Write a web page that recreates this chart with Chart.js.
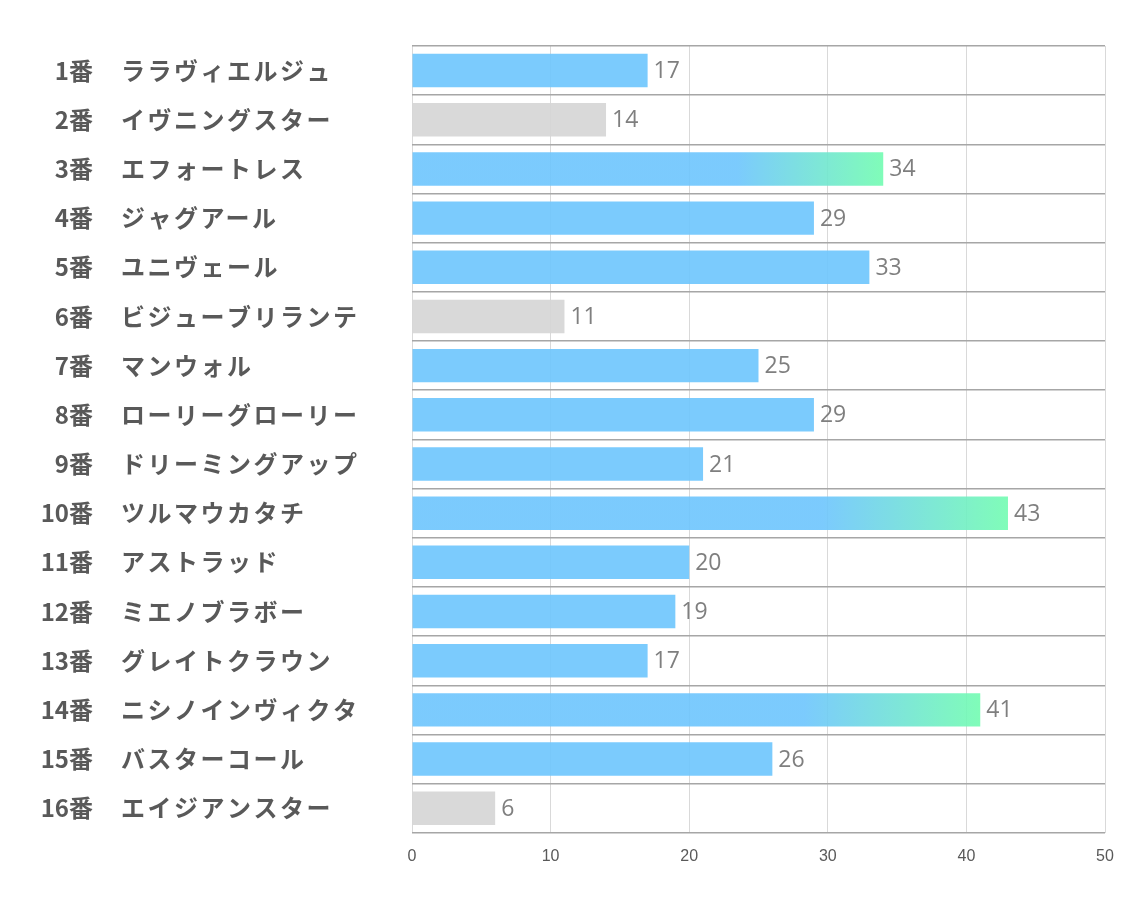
<!DOCTYPE html>
<html><head><meta charset="utf-8">
<script src="https://cdn.jsdelivr.net/npm/chart.js@4"></script>
<style>html,body{margin:0;padding:0;background:#fff}#wrap{width:1134px;height:907px}</style>
</head><body><div id="wrap"><canvas id="c" width="1134" height="907"></canvas></div>
<script>
const numbers = ['1番','2番','3番','4番','5番','6番','7番','8番','9番','10番','11番','12番','13番','14番','15番','16番'];
const names = ['ララヴィエルジュ','イヴニングスター','エフォートレス','ジャグアール','ユニヴェール','ビジューブリランテ','マンウォル','ローリーグローリー','ドリーミングアップ','ツルマウカタチ','アストラッド','ミエノブラボー','グレイトクラウン','ニシノインヴィクタ','バスターコール','エイジアンスター'];
const values = [17,14,34,29,33,11,25,29,21,43,20,19,17,41,26,6];
const kinds = ['n','g','t','n','n','g','n','n','n','t','n','n','n','t','n','g'];
const xTicks = [0,10,20,30,40,50];

const BLUE = 'rgba(109,197,253,0.9)', GRAY = 'rgba(213,213,213,0.9)', GREEN = 'rgba(114,252,177,0.9)';

function barColor(ctx){
  const k = kinds[ctx.dataIndex];
  if (k === 'g') return GRAY;
  if (k !== 't') return BLUE;
  const chart = ctx.chart, sx = chart.scales && chart.scales.x;
  if (!sx || !chart.chartArea) return BLUE;
  const x0 = sx.getPixelForValue(0), x1 = sx.getPixelForValue(values[ctx.dataIndex]);
  const g = chart.ctx.createLinearGradient(x0, 0, x1, 0);
  g.addColorStop(0, BLUE); g.addColorStop(0.69, BLUE); g.addColorStop(1, GREEN);
  return g;
}

const labelPlugin = {
  id: 'labels',
  afterDatasetsDraw(chart){
    const c = chart.ctx, ys = chart.scales.y, meta = chart.getDatasetMeta(0);
    c.save();
    c.textBaseline = 'middle';
    c.fillStyle = '#595959';
    c.font = 'bold 24px "Noto Sans CJK JP"';
    names.forEach((n, i) => {
      const y = ys.getPixelForTick(i);
      c.textAlign = 'right';
      c.letterSpacing = '0px';
      c.fillText(numbers[i], 93, y);
      c.textAlign = 'left';
      c.letterSpacing = '2.5px';
      c.fillText(n, 121, y);
    });
    c.letterSpacing = '0px';
    c.font = '23px "Open Sans"';
    c.fillStyle = '#7f7f7f';
    c.textAlign = 'left';
    meta.data.forEach((bar, i) => {
      c.fillText(String(values[i]), bar.x + 6, bar.y + 1);
    });
    c.restore();
  }
};

new Chart(document.getElementById('c'), {
  type: 'bar',
  data: { labels: names, datasets: [{ data: values, backgroundColor: barColor, barPercentage: 0.68, categoryPercentage: 1 }] },
  options: {
    indexAxis: 'y', responsive: false, animation: false,
    layout: { padding: { left: 412, right: 29, top: 46, bottom: 27 } },
    plugins: { legend: { display: false }, tooltip: { enabled: false } },
    scales: {
      x: {
        min: 0, max: 50, afterBuildTicks: s => { s.ticks = xTicks.map(v => ({ value: v })); },
        grid: { color: '#d9d9d9', lineWidth: 1, drawTicks: false },
        border: { display: false },
        ticks: { color: '#595959', font: { family: '"Liberation Sans Narrow", "Liberation Sans"', size: 16 }, padding: 14 }
      },
      y: {
        grid: { offset: true, color: '#a6a6a6', lineWidth: 1.5, drawTicks: false, z: 1 },
        border: { display: false },
        ticks: { display: false }
      }
    }
  },
  plugins: [labelPlugin]
});
</script></body></html>
